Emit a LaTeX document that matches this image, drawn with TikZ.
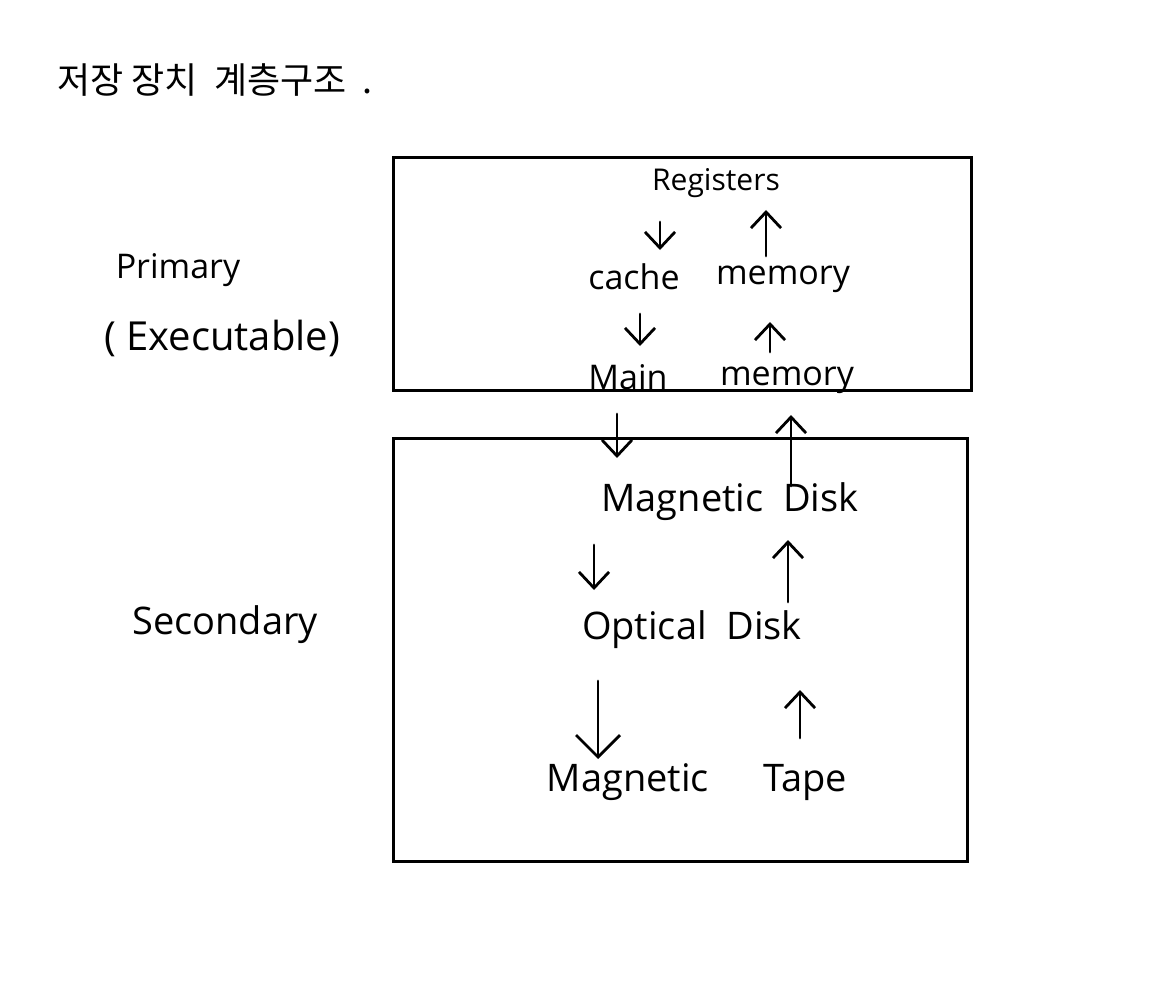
\documentclass[tikz,border=0pt]{standalone}
\usepackage{fontspec}
\setmainfont{Open Sans}
\newfontfamily\krfont{Noto Sans CJK KR}
\usetikzlibrary{arrows.meta}
\begin{document}
\begin{tikzpicture}[x=0.5pt,y=-0.5pt,
  ink/.style={line width=1.4pt,line cap=round,line join=round},
  arr/.style={ink,-{Straight Barb[length=8pt,width=15pt,line width=1.4pt]}},
  bigarr/.style={ink,-{Straight Barb[length=11pt,width=22pt,line width=1.4pt]}},
  lbl/.style={inner sep=0pt,font=\fontsize{17}{20}\selectfont},
  biglbl/.style={inner sep=0pt,font=\fontsize{19}{22}\selectfont},
  side/.style={inner sep=0pt,font=\fontsize{19}{22}\selectfont},
  box/.style={draw,line width=1.5pt}]
\useasboundingbox (0,0) rectangle (1155,1000);
% title
\node[inner sep=0pt,font=\krfont\fontsize{18}{22}\selectfont] (title) at (215,80) {저장 장치\ \ 계층구조\ \ .};
% side labels
\node[side,font=\fontsize{17}{20}\selectfont] (prim) at (178,270) {Primary};
\node[side,font=\fontsize{20}{22}\selectfont] (exec) at (222,338) {(\ Executable)};
\node[side] (sec) at (225,625) {Secondary};
% boxes
\coordinate (p1) at (393,158); \coordinate (p2) at (971,390);
\coordinate (s1) at (393,438); \coordinate (s2) at (967,861);
\draw[box] (p1) rectangle (p2);
\draw[box] (s1) rectangle (s2);
% primary labels
\node[lbl,font=\fontsize{15}{17}\selectfont] (reg) at (716,183) {Registers};
\node[lbl] (cache) at (634,277) {cache};
\node[lbl] (mem1) at (783,279) {memory};
\node[lbl] (main) at (628,377) {Main};
\node[lbl] (mem2) at (787,380) {memory};
% secondary labels
\node[biglbl] (mdisk) at (730,502) {Magnetic\ \ Disk};
\node[biglbl] (odisk) at (692,630) {Optical\ \ Disk};
\node[biglbl] (mag) at (628,782) {Magnetic};
\node[biglbl] (tape) at (805,782) {Tape};
% arrow endpoints
\coordinate (a1s) at (660,222); \coordinate (a1e) at (660,250);
\coordinate (a2s) at (766,256); \coordinate (a2e) at (766,210);
\coordinate (a3s) at (640,314); \coordinate (a3e) at (640,346);
\coordinate (a4s) at (770,352); \coordinate (a4e) at (770,322);
\coordinate (a5s) at (617,414); \coordinate (a5e) at (617,458);
\coordinate (a6s) at (791,486); \coordinate (a6e) at (791,415);
\coordinate (a7s) at (594,545); \coordinate (a7e) at (594,590);
\coordinate (a8s) at (788,602); \coordinate (a8e) at (788,540);
\coordinate (a9s) at (598,681); \coordinate (a9e) at (598,759);
\coordinate (a10s) at (800,738); \coordinate (a10e) at (800,690);
\draw[arr] (a1s) -- (a1e);
\draw[arr] (a2s) -- (a2e);
\draw[arr] (a3s) -- (a3e);
\draw[arr] (a4s) -- (a4e);
\draw[arr] (a5s) -- (a5e);
\draw[arr] (a6s) -- (a6e);
\draw[arr] (a7s) -- (a7e);
\draw[arr] (a8s) -- (a8e);
\draw[bigarr] (a9s) -- (a9e);
\draw[arr] (a10s) -- (a10e);
\end{tikzpicture}
\end{document}
